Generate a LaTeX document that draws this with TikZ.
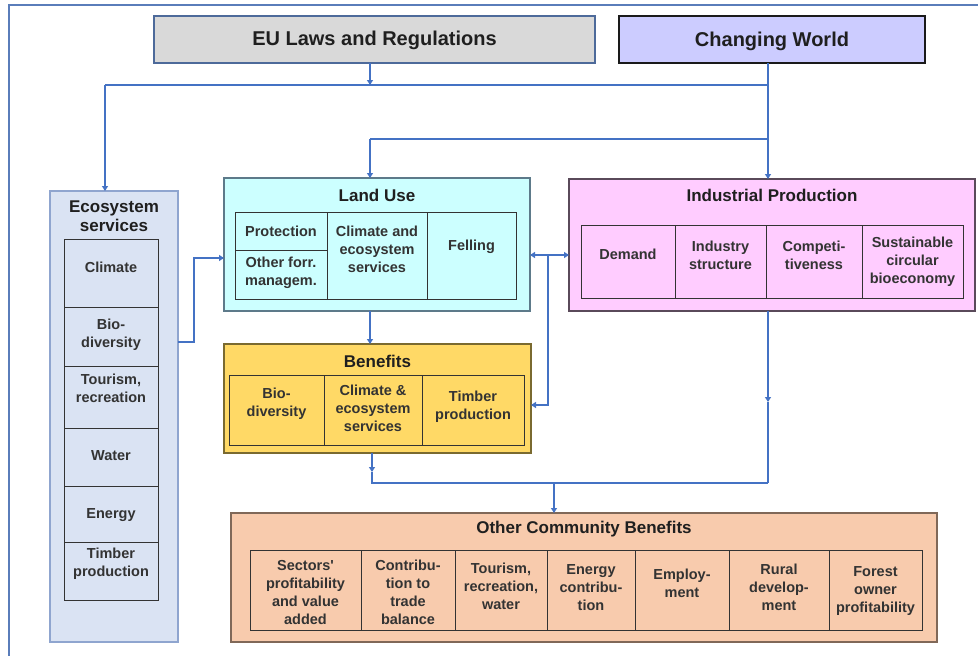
\documentclass[tikz,border=0pt]{standalone}
\usepackage{fontspec}
\setmainfont{Liberation Sans}
\usetikzlibrary{arrows.meta,fit}
\definecolor{framec}{HTML}{5A7DBA}
\definecolor{connc}{HTML}{4472C4}
\definecolor{eufill}{HTML}{D9D9D9}
\definecolor{eudraw}{HTML}{4D6A9A}
\definecolor{cwfill}{HTML}{CCCCFF}
\definecolor{cwdraw}{HTML}{1A1A1A}
\definecolor{ecofill}{HTML}{DAE3F3}
\definecolor{ecodraw}{HTML}{8FA5CF}
\definecolor{lufill}{HTML}{CCFFFF}
\definecolor{ludraw}{HTML}{5D7A8A}
\definecolor{indfill}{HTML}{FFCCFF}
\definecolor{inddraw}{HTML}{5A4A5A}
\definecolor{benfill}{HTML}{FFD966}
\definecolor{bendraw}{HTML}{7A6A30}
\definecolor{ocbfill}{HTML}{F8CBAD}
\definecolor{ocbdraw}{HTML}{806858}
\definecolor{cellc}{HTML}{333333}
\definecolor{txtc}{HTML}{1F1F1F}
\definecolor{txtcb}{HTML}{333333}
\begin{document}
\begin{tikzpicture}[x=1pt,y=-1pt,
  box/.style={draw, line width=1.3pt, inner sep=0pt, outer sep=0pt},
  cellbox/.style={draw=cellc, line width=1pt, inner sep=0pt, outer sep=0pt},
  big/.style={font=\fontsize{20}{24}\selectfont\bfseries, text=txtc, inner sep=0pt},
  ttl/.style={font=\fontsize{17}{19}\selectfont\bfseries, text=txtc, align=center, inner sep=0pt},
  txt/.style={font=\fontsize{14.5}{18}\selectfont\bfseries, text=txtcb, align=center, inner sep=0pt},
  conn/.style={draw=connc, line width=1.6pt},
  >={Triangle[width=6pt,length=5pt]}]
\useasboundingbox (0,0) rectangle (978,656);
% outer frame
\draw[framec, line width=1.2pt] (9,700) -- (9,5) -- (1000,5);

% top boxes
\node[box, draw=eudraw, fill=eufill, fit={(154,16) (595,63)}] (eu) {};
\node[big] (eut) at (374.5,40) {EU Laws and Regulations};
\node[box, draw=cwdraw, fill=cwfill, fit={(619,16) (925,63)}] (cw) {};
\node[big] (cwt) at (772,41) {Changing World};

% Ecosystem services
\node[box, draw=ecodraw, fill=ecofill, fit={(50,191) (178,642)}] (eco) {};
\node[ttl] (ecot) at (114,216.5) {Ecosystem\\services};
\node[cellbox, fit={(64,239) (158,307)}] (es1) {};
\node[cellbox, fit={(64,307) (158,366)}] (es2) {};
\node[cellbox, fit={(64,366) (158,428)}] (es3) {};
\node[cellbox, fit={(64,428) (158,486)}] (es4) {};
\node[cellbox, fit={(64,486) (158,542)}] (es5) {};
\node[cellbox, fit={(64,542) (158,600)}] (es6) {};
\node[txt] (es1t) at (111,267) {Climate};
\node[txt] (es2t) at (111,335) {Bio-\\diversity};
\node[txt] (es3t) at (111,388) {Tourism,\\recreation};
\node[txt] (es4t) at (111,456) {Water};
\node[txt] (es5t) at (111,515) {Energy};
\node[txt] (es6t) at (111,564) {Timber\\production};

% Land Use
\node[box, draw=ludraw, fill=lufill, fit={(224,178) (530,311)}] (lu) {};
\node[ttl] (lut) at (377,195) {Land Use};
\node[cellbox, fit={(235,212) (327,250)}] (lu1) {};
\node[cellbox, fit={(235,250) (327,299)}] (lu2) {};
\node[cellbox, fit={(327,212) (427,299)}] (lu3) {};
\node[cellbox, fit={(427,212) (516,299)}] (lu4) {};
\node[txt] (lu1t) at (281,231) {Protection};
\node[txt] (lu2t) at (281,272.5) {Other forr.\\managem.};
\node[txt] (lu3t) at (377,249) {Climate and\\ecosystem\\services};
\node[txt] (lu4t) at (471.5,247) {Felling};

% Benefits
\node[box, draw=bendraw, fill=benfill, fit={(224,344) (531,453)}] (ben) {};
\node[ttl] (bent) at (377.5,361) {Benefits};
\node[cellbox, fit={(229,375) (324,445)}] (be1) {};
\node[cellbox, fit={(324,375) (422,445)}] (be2) {};
\node[cellbox, fit={(422,375) (524,445)}] (be3) {};
\node[txt] (be1t) at (276.5,404) {Bio-\\diversity};
\node[txt] (be2t) at (373,408.5) {Climate \&\\ecosystem\\services};
\node[txt] (be3t) at (473,406.5) {Timber\\production};

% Industrial Production
\node[box, draw=inddraw, fill=indfill, fit={(569,179) (975,311)}] (ind) {};
\node[ttl] (indt) at (772,195) {Industrial Production};
\node[cellbox, fit={(581,225) (675,298)}] (ip1) {};
\node[cellbox, fit={(675,225) (766,298)}] (ip2) {};
\node[cellbox, fit={(766,225) (862,298)}] (ip3) {};
\node[cellbox, fit={(862,225) (963,298)}] (ip4) {};
\node[txt] (ip1t) at (628,254) {Demand};
\node[txt] (ip2t) at (720.5,255.5) {Industry\\structure};
\node[txt] (ip3t) at (814,255.5) {Competi-\\tiveness};
\node[txt] (ip4t) at (912.5,261.5) {Sustainable\\circular\\bioeconomy};

% Other Community Benefits
\node[box, draw=ocbdraw, fill=ocbfill, fit={(231,513) (937,642)}] (ocb) {};
\node[ttl] (ocbt) at (584,529) {Other Community Benefits};
\node[cellbox, fit={(250,550) (361,630)}] (ob1) {};
\node[cellbox, fit={(361,550) (455,630)}] (ob2) {};
\node[cellbox, fit={(455,550) (547,630)}] (ob3) {};
\node[cellbox, fit={(547,550) (635,630)}] (ob4) {};
\node[cellbox, fit={(635,550) (729,630)}] (ob5) {};
\node[cellbox, fit={(729,550) (829,630)}] (ob6) {};
\node[cellbox, fit={(829,550) (922,630)}] (ob7) {};
\node[txt] (ob1t) at (305.5,592.5) {Sectors\textquotesingle\\profitability\\and value\\added};
\node[txt] (ob2t) at (408,592) {Contribu-\\tion to\\trade\\balance};
\node[txt] (ob3t) at (501,586) {Tourism,\\recreation,\\water};
\node[txt] (ob4t) at (591,588) {Energy\\contribu-\\tion};
\node[txt] (ob5t) at (682,583.5) {Employ-\\ment};
\node[txt] (ob6t) at (779,587) {Rural\\develop-\\ment};
\node[txt] (ob7t) at (875.5,591) {Forest\\owner\\profitability};

% junction coordinates
\coordinate (j1) at (370,85);
\coordinate (j2) at (105,85);
\coordinate (j3) at (768,85);
\coordinate (j4) at (370,139);
\coordinate (j5) at (768,139);
\coordinate (e1) at (194,342);
\coordinate (e2) at (194,258);
\coordinate (d1) at (548,255);
\coordinate (d2) at (548,405);
\coordinate (m1) at (372,472);
\coordinate (m2) at (372,483);
\coordinate (m3) at (768,402);
\coordinate (m4) at (768,483);
\coordinate (m5) at (554,483);

% connectors
\draw[conn,->] (eu.south -| j1) -- (j1);
\draw[conn] (j2) -- (j3);
\draw[conn,->] (j2) -- (eco.north -| j2);
\draw[conn,->] (cw.south -| j3) -- (ind.north -| j3);
\draw[conn] (j4) -- (j5);
\draw[conn,->] (j4) -- (lu.north -| j4);
\draw[conn,->] (eco.east |- e1) -- (e1) -- (e2) -- (lu.west |- e2);
\draw[conn,<->] (lu.east |- d1) -- (ind.west |- d1);
\draw[conn,->] (d1) -- (d2) -- (ben.east |- d2);
\draw[conn,->] (lu.south -| j4) -- (ben.north -| j4);
\draw[conn,->] (ben.south -| m1) -- (m1);
\draw[conn] (m1) -- (m2) -- (m4);
\draw[conn,->] (ind.south -| m3) -- (m3);
\draw[conn] (m3) -- (m4);
\draw[conn,->] (m5) -- (ocb.north -| m5);
\end{tikzpicture}
\end{document}
